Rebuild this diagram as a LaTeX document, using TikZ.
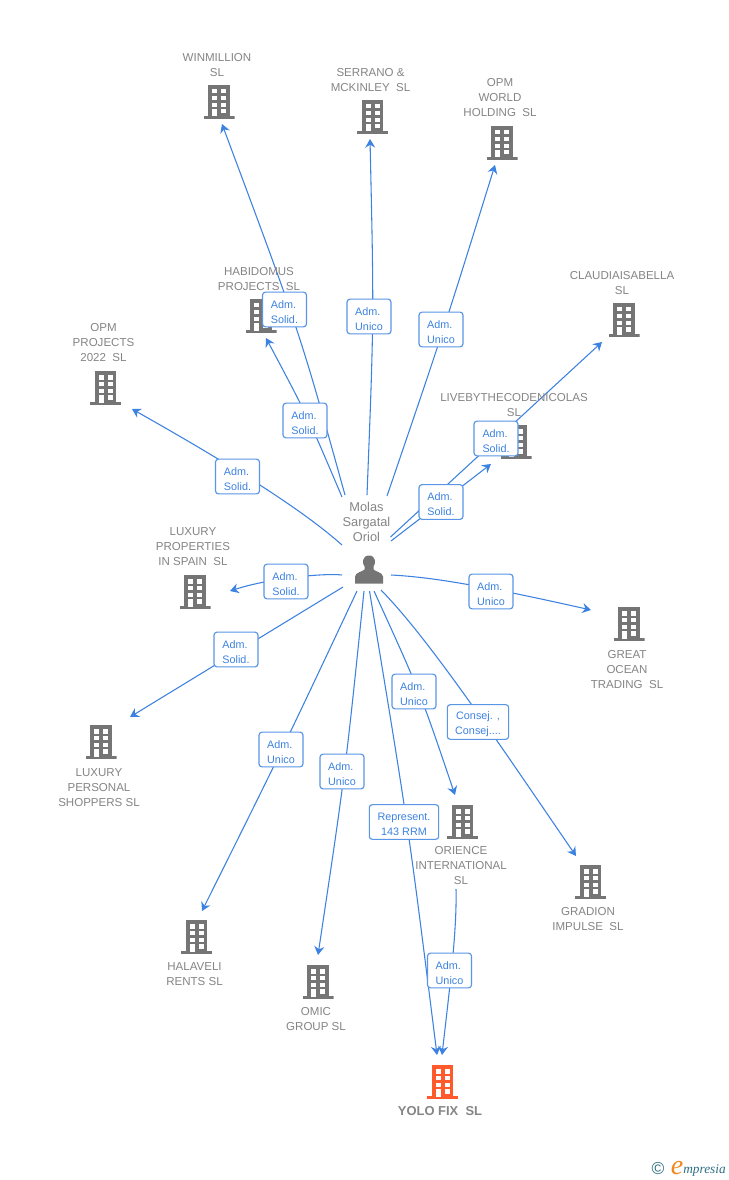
\documentclass[tikz,border=0pt]{standalone}
\usepackage{fontspec}
\setmainfont{Liberation Sans}
\newfontfamily\logofont{Liberation Serif}
\usetikzlibrary{arrows.meta}
\definecolor{linkblue}{HTML}{3C82E0}
\definecolor{boxblue}{HTML}{5A96E6}
\definecolor{txtgrey}{HTML}{858585}
\definecolor{bldgrey}{HTML}{757575}
\definecolor{bldorange}{HTML}{FF5A2B}
\definecolor{logoteal}{HTML}{2F6F85}
\definecolor{logoorange}{HTML}{F08A1E}
\newcommand{\bldshape}[1]{%
  \fill[#1] (-10.8,-17) rectangle (10.8,14.5);
  \fill[#1] (-15.5,14) rectangle (15.5,17);
  \foreach \yy in {-12.7,-6,0.7}{
    \fill[white] (-6.7,\yy) rectangle (-1.9,\yy+4.2);
    \fill[white] (2.2,\yy) rectangle (7,\yy+4.2);
  }
  \fill[white] (-6.7,7.3) rectangle (-1.9,14.5);
  \fill[white] (2.2,7.3) rectangle (7,11.5);
}
\newcommand{\tagtxt}[2]{\rule{0pt}{9.6pt}#1\\#2}
\tikzset{
  x=0.75pt,y=-0.75pt,
  link/.style={draw=linkblue,line width=0.8pt,-{Stealth[length=6.5pt,width=7.5pt,inset=2.2pt]}},
  tag/.style={draw=boxblue,line width=0.85pt,rounded corners=2.2pt,fill=white,text=linkblue,font=\fontsize{8.1pt}{11.25pt}\selectfont,align=center,inner sep=0pt,minimum height=26pt},
  tagS/.style={tag,align=left,minimum width=33pt},
  captxt/.style={text=txtgrey,font=\fontsize{8.65pt}{11.25pt}\selectfont,align=center,inner sep=0pt,yshift=-0.6pt},
  bldg/.style={inner sep=0pt,minimum width=23.25pt,minimum height=25.5pt,path picture={
    \begin{scope}[shift={(path picture bounding box.center)}]\bldshape{bldgrey}\end{scope}}},
  bldgO/.style={inner sep=0pt,minimum width=23.25pt,minimum height=25.5pt,path picture={
    \begin{scope}[shift={(path picture bounding box.center)}]\bldshape{bldorange}\end{scope}}},
}
\begin{document}
\begin{tikzpicture}
\useasboundingbox (0,0) rectangle (728,1180);
\fill[white] (0,0) rectangle (728,1180);

% connector ends
\coordinate (s1) at (345,495); \coordinate (e1) at (222,124);
\coordinate (s2) at (342,497); \coordinate (e2) at (266,338);
\coordinate (s3) at (367,495); \coordinate (e3) at (370,139);
\coordinate (s4) at (387,496); \coordinate (e4) at (495,165);
\coordinate (s5) at (390.5,537); \coordinate (e5) at (602,342);
\coordinate (s6) at (391,541); \coordinate (e6) at (491,464);
\coordinate (s7) at (342,545); \coordinate (e7) at (132,409);
\coordinate (s8) at (342,575); \coordinate (e8) at (230,591);
\coordinate (s9) at (343,587); \coordinate (e9) at (130,717);
\coordinate (s10) at (357,591); \coordinate (e10) at (202,911);
\coordinate (s11) at (364,591); \coordinate (e11) at (318,955);
\coordinate (s12) at (369.5,591); \coordinate (e12) at (437,1055);
\coordinate (s13) at (374,591); \coordinate (e13) at (455,795);
\coordinate (s14) at (381,590); \coordinate (e14) at (576,856);
\coordinate (s15) at (391,575); \coordinate (e15) at (591,610);
\coordinate (s16) at (456,889); \coordinate (e16) at (442,1055);

% connectors
\draw[link] (s1) .. controls (300,333) .. (e1);
\draw[link] (s2) .. controls (308,417) .. (e2);
\draw[link] (s3) .. controls (374,317) .. (e3);
\draw[link] (s4) .. controls (443.7,330) .. (e4);
\draw[link] (s5) -- (e5);
\draw[link] (s6) -- (e6);
\draw[link] (s7) .. controls (305,512) and (240,470) .. (e7);
\draw[link] (s8) .. controls (325,573) and (270,578) .. (e8);
\draw[link] (s9) -- (e9);
\draw[link] (s10) .. controls (281.7,751) .. (e10);
\draw[link] (s11) .. controls (345.2,773.5) .. (e11);
\draw[link] (s12) .. controls (408,823.5) .. (e12);
\draw[link] (s13) .. controls (420.5,693) .. (e13);
\draw[link] (s14) .. controls (430,640) and (500,745) .. (e14);
\draw[link] (s15) .. controls (430,577) and (480,585) .. (e15);
\draw[link] (s16) .. controls (457,930) and (450,985) .. (e16);

% buildings
\node[bldg] (winmillion) at (219,102) {};
\node[bldg] (serrano) at (372.5,117) {};
\node[bldg] (opmworld) at (502,143) {};
\node[bldg] (habidomus) at (261,316) {};
\node[bldg] (claudia) at (624,320) {};
\node[bldg] (opmprojects) at (105.5,388) {};
\node[bldg] (liveby) at (516,442) {};
\node[bldg] (luxprop) at (195,592) {};
\node[bldg] (greatocean) at (629,624) {};
\node[bldg] (luxpers) at (101,742) {};
\node[bldg] (orience) at (462.5,822) {};
\node[bldg] (gradion) at (590.5,882) {};
\node[bldg] (halaveli) at (196.5,937) {};
\node[bldg] (omic) at (318,982) {};
\node[bldgO] (yolo) at (442.5,1082) {};

% person
\node[inner sep=0pt,minimum width=21pt,minimum height=21pt,path picture={
  \begin{scope}[shift={(path picture bounding box.center)}]
  \fill[bldgrey] (-14,14) -- (-14,7) .. controls (-14,3) and (-6,2) .. (-4.5,0) -- (-4.5,-3) .. controls (-7,-6) and (-7,-14) .. (0,-14) .. controls (7,-14) and (7,-6) .. (4.5,-3) -- (4.5,0) .. controls (6,2) and (14,3) .. (14,7) -- (14,14) -- cycle;
  \end{scope}}] (person) at (369,569.5) {};

% captions
\node[captxt] (tWin) at (217,64) {WINMILLION\\SL};
\node[captxt] (tSer) at (370.5,79) {SERRANO \&\\MCKINLEY\ \ SL};
\node[captxt] (tOpw) at (500,97) {OPM\\WORLD\\HOLDING\ \ SL};
\node[captxt] (tHab) at (259,278) {HABIDOMUS\\PROJECTS\ \ SL};
\node[captxt] (tCla) at (622,282) {CLAUDIAISABELLA\\SL};
\node[captxt] (tOpp) at (103.5,342) {OPM\\PROJECTS\\2022\ \ SL};
\node[captxt] (tLiv) at (514,404) {LIVEBYTHECODENICOLAS\\SL};
\node[captxt] (tLup) at (193,546) {LUXURY\\PROPERTIES\\IN SPAIN\ \ SL};
\node[captxt] (tGre) at (627,669) {GREAT\\OCEAN\\TRADING\ \ SL};
\node[captxt] (tLpe) at (99,787) {LUXURY\\PERSONAL\\SHOPPERS SL};
\node[captxt] (tOri) at (461,865) {ORIENCE\\INTERNATIONAL\\SL};
\node[captxt] (tGra) at (588,918) {GRADION\\IMPULSE\ \ SL};
\node[captxt] (tHal) at (194.5,973) {HALAVELI\\RENTS SL};
\node[captxt] (tOmi) at (316,1018) {OMIC\\GROUP SL};
\node[captxt,font=\bfseries\fontsize{9.7pt}{11.25pt}\selectfont,text=txtgrey] (tYol) at (440,1110) {YOLO FIX\ \ SL};
\node[captxt,font=\fontsize{9.6pt}{11.25pt}\selectfont] (tPer) at (366.5,521) {Molas\\Sargatal\\Oriol};

% labels
\node[tagS] (l1) at (284.5,309.5) {\tagtxt{Adm.}{Solid.}};
\node[tagS] (l2) at (305,420.5) {\tagtxt{Adm.}{Solid.}};
\node[tagS] (l3) at (369,316.5) {\tagtxt{Adm.}{Unico}};
\node[tagS] (l4) at (441,329.5) {\tagtxt{Adm.}{Unico}};
\node[tagS] (l5) at (496,438.5) {\tagtxt{Adm.}{Solid.}};
\node[tagS] (l6) at (441,502) {\tagtxt{Adm.}{Solid.}};
\node[tagS] (l7) at (237.5,476.5) {\tagtxt{Adm.}{Solid.}};
\node[tagS] (l8) at (286,581.5) {\tagtxt{Adm.}{Solid.}};
\node[tagS] (l9) at (236,649.5) {\tagtxt{Adm.}{Solid.}};
\node[tagS] (l10) at (281,749.5) {\tagtxt{Adm.}{Unico}};
\node[tagS] (l11) at (342,771.5) {\tagtxt{Adm.}{Unico}};
\node[tag,minimum width=52pt] (l12) at (404,822) {\tagtxt{Represent.}{143 RRM}};
\node[tagS] (l13) at (414,691.5) {\tagtxt{Adm.}{Unico}};
\node[tag,minimum width=46pt] (l14) at (478,722) {\tagtxt{Consej. ,}{Consej....}};
\node[tagS] (l15) at (491,591.5) {\tagtxt{Adm.}{Unico}};
\node[tagS] (l16) at (449.5,970.5) {\tagtxt{Adm.}{Unico}};

% logo
\node[text=logoteal,font=\fontsize{13pt}{14pt}\selectfont,inner sep=0pt] (logoc) at (658,1168.5) {©};
\node[text=logoorange,font=\logofont\itshape\fontsize{21pt}{22pt}\selectfont,inner sep=0pt] (logoe) at (677,1168) {e};
\node[text=logoteal,font=\logofont\itshape\fontsize{10pt}{12pt}\selectfont,inner sep=0pt,anchor=west] (logot) at (683,1170) {mpresia};
\end{tikzpicture}
\end{document}
